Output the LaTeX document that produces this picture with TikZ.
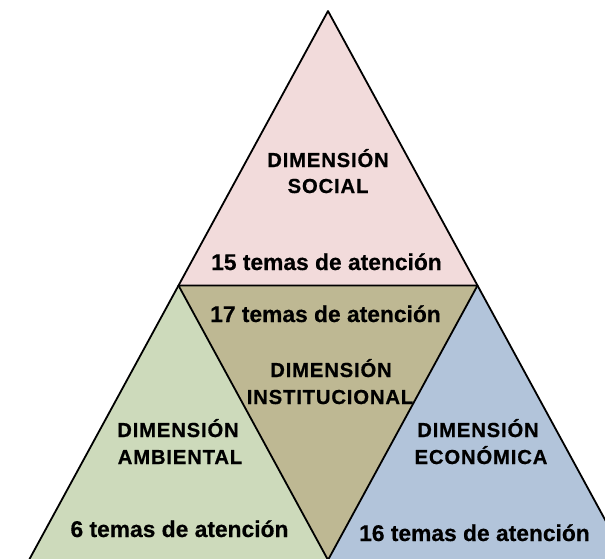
\documentclass[tikz,border=0pt]{standalone}
\usepackage{fontspec}
\usetikzlibrary{calc}
\setmainfont{Liberation Sans}[BoldFeatures={FakeBold=0.5}]
\newfontfamily\titlefont{Liberation Sans}[LetterSpace=4,BoldFeatures={FakeBold=0.6}]
\definecolor{socialc}{RGB}{242,219,219}
\definecolor{instc}{RGB}{190,184,147}
\definecolor{ambc}{RGB}{205,218,187}
\definecolor{econc}{RGB}{178,196,218}
\tikzset{
  ttl/.style={anchor=base, inner sep=0pt, font=\titlefont\bfseries\fontsize{20.3}{23}\selectfont},
  cnt/.style={anchor=base, inner sep=0pt, font=\bfseries\fontsize{22.8}{26}\selectfont},
  edge/.style={draw=black, line width=1.8pt, line join=round}
}
\begin{document}
\begin{tikzpicture}[x=1pt,y=-1pt]
\useasboundingbox (0,0) rectangle (605,558);
\clip (0,0) rectangle (605,558);
\coordinate (apex) at (328,11);
\coordinate (bl) at (29,560);
\coordinate (br) at (627,560);
\coordinate (ml) at ($(apex)!0.5!(bl)$);
\coordinate (mr) at ($(apex)!0.5!(br)$);
\coordinate (mb) at ($(bl)!0.5!(br)$);
% fills
\fill[socialc] (apex) -- (ml) -- (mr) -- cycle;
\fill[instc] (ml) -- (mr) -- (mb) -- cycle;
\fill[ambc] (ml) -- (mb) -- (bl) -- cycle;
\fill[econc] (mr) -- (br) -- (mb) -- cycle;
% edges
\draw[edge] (bl) -- (apex) -- (br);
\draw[edge] (ml) -- (mr) -- (mb) -- cycle;
% texts
\node[ttl] (s1) at (328,167) {DIMENSIÓN};
\node[ttl] (s2) at (328,193) {SOCIAL};
\node[cnt] (s3) at (326.5,270) {15 temas de atención};
\node[cnt] (i0) at (325.5,322) {17 temas de atención};
\node[ttl] (i1) at (331,377) {DIMENSIÓN};
\node[ttl] (i2) at (330,404) {INSTITUCIONAL};
\node[ttl] (a1) at (178,437) {DIMENSIÓN};
\node[ttl] (a2) at (180,464) {AMBIENTAL};
\node[cnt] (a3) at (179.5,537) {6 temas de atención};
\node[ttl] (e1) at (478,437) {DIMENSIÓN};
\node[ttl] (e2) at (481,464) {ECONÓMICA};
\node[cnt] (e3) at (474.5,541) {16 temas de atención};
\end{tikzpicture}
\end{document}
